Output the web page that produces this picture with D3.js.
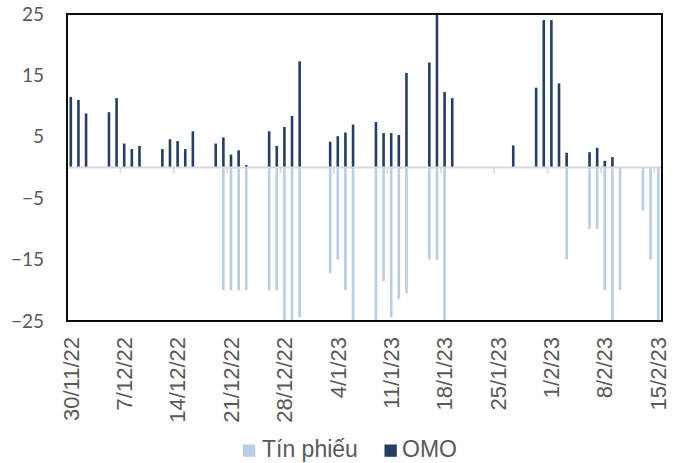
<!DOCTYPE html>
<html>
<head>
<meta charset="utf-8">
<script src="https://cdn.jsdelivr.net/npm/d3@7"></script>
<style>
  html, body { margin: 0; padding: 0; background: #fff; }
  svg { display: block; }
</style>
</head>
<body>
<svg id="chart" width="681" height="463"></svg>
<script>
// ---- Data ----
const dates = [
  "30/11/22","1/12/22","2/12/22","3/12/22","4/12/22","5/12/22","6/12/22",
  "7/12/22","8/12/22","9/12/22","10/12/22","11/12/22","12/12/22","13/12/22",
  "14/12/22","15/12/22","16/12/22","17/12/22","18/12/22","19/12/22","20/12/22",
  "21/12/22","22/12/22","23/12/22","24/12/22","25/12/22","26/12/22","27/12/22",
  "28/12/22","29/12/22","30/12/22","31/12/22","1/1/23","2/1/23","3/1/23",
  "4/1/23","5/1/23","6/1/23","7/1/23","8/1/23","9/1/23","10/1/23",
  "11/1/23","12/1/23","13/1/23","14/1/23","15/1/23","16/1/23","17/1/23",
  "18/1/23","19/1/23","20/1/23","21/1/23","22/1/23","23/1/23","24/1/23",
  "25/1/23","26/1/23","27/1/23","28/1/23","29/1/23","30/1/23","31/1/23",
  "1/2/23","2/2/23","3/2/23","4/2/23","5/2/23","6/2/23","7/2/23",
  "8/2/23","9/2/23","10/2/23","11/2/23","12/2/23","13/2/23","14/2/23",
  "15/2/23"
];
const omo = [
  11.5, 11.0, 8.8, 0, 0, 9.0, 11.3,
  3.9, 3.0, 3.5, 0, 0, 3.0, 4.6,
  4.3, 3.0, 5.9, 0, 0, 3.9, 4.9,
  2.1, 2.8, 0.4, 0, 0, 5.9, 3.5,
  6.6, 8.4, 17.3, 0, 0, 0, 4.2,
  5.1, 5.7, 7.0, 0, 0, 7.4, 5.6,
  5.6, 5.3, 15.4, 0, 0, 17.1, 26,
  12.3, 11.3, 0, 0, 0, 0, 0,
  0, 0, 3.6, 0, 0, 13.0, 24.0,
  24.0, 13.7, 2.4, 0, 0, 2.5, 3.2,
  1.1, 1.7, 0, 0, 0, 0, 0,
  0
];
const tinPhieu = [
  0, 0, 0, 0, 0, 0, 0,
  0, 0, 0, 0, 0, 0, 0,
  0, 0, 0, 0, 0, 0, -20,
  -20, -20, -20, 0, 0, -20, -20,
  -26, -26, -24.4, 0, 0, 0, -17.2,
  -15, -20, -25, 0, 0, -25, -18.5,
  -24.4, -21.4, -20.5, 0, 0, -15, -15,
  -25, 0, 0, 0, 0, 0, 0,
  0, 0, 0, 0, 0, 0, 0,
  0, 0, -15, 0, 0, -10, -10,
  -20, -25, -20, 0, 0, -7, -15,
  -25
];
const yTicks = [-25, -15, -5, 5, 15, 25];
const labelEvery = 7;
const seriesNames = ["Tín phiếu", "OMO"];
const colors = ["#B9CDE5", "#243F63"];

// ---- Layout ----
const svg = d3.select("#chart");
const L = 67, R = 662, T = 14, B = 321;

const idx = dates.map((d, i) => i);
const x = d3.scaleBand().domain(idx).range([L, R]).padding(0);
const y = d3.scaleLinear().domain([-25, 25]).range([B, T]);
const barW = 2.6;

svg.append("defs").append("clipPath").attr("id", "plotclip")
  .append("rect").attr("x", L).attr("y", T).attr("width", R - L).attr("height", B - T);

const plot = svg.append("g").attr("clip-path", "url(#plotclip)");

// Tín phiếu bars
plot.append("g").selectAll("rect")
  .data(tinPhieu.map((v, i) => ({ i, v })).filter(d => d.v !== 0))
  .join("rect")
  .attr("x", d => x(d.i) + x.bandwidth() / 2 - barW / 2)
  .attr("width", barW)
  .attr("y", d => y(Math.max(0, d.v)))
  .attr("height", d => Math.abs(y(d.v) - y(0)))
  .attr("fill", colors[0]);

// OMO bars
plot.append("g").selectAll("rect")
  .data(omo.map((v, i) => ({ i, v })).filter(d => d.v !== 0))
  .join("rect")
  .attr("x", d => x(d.i) + x.bandwidth() / 2 - barW / 2)
  .attr("width", barW)
  .attr("y", d => y(Math.max(0, d.v)))
  .attr("height", d => Math.abs(y(d.v) - y(0)))
  .attr("fill", colors[1]);

// zero line and tick marks
const tickIdx = idx.filter(i => i % labelEvery === 0);
svg.append("g").selectAll("line")
  .data(tickIdx)
  .join("line")
  .attr("x1", d => x(d)).attr("x2", d => x(d))
  .attr("y1", y(0)).attr("y2", y(0) + 6)
  .attr("stroke", "#D9D9D9").attr("stroke-width", 1.5);
svg.append("line")
  .attr("x1", L).attr("x2", R)
  .attr("y1", y(0)).attr("y2", y(0))
  .attr("stroke", "#D9D9D9").attr("stroke-width", 2);

// frame
svg.append("rect")
  .attr("x", L).attr("y", T).attr("width", R - L).attr("height", B - T)
  .attr("fill", "none").attr("stroke", "#0D0D0D").attr("stroke-width", 2);

// Y axis
const yAxis = svg.append("g")
  .attr("transform", `translate(${L},0)`)
  .call(d3.axisLeft(y).tickValues(yTicks).tickSize(0).tickPadding(23).tickFormat(d3.format("d")));
yAxis.select(".domain").remove();
yAxis.selectAll("text")
  .attr("font-family", "Lato, 'Open Sans', sans-serif")
  .attr("font-size", 19)
  .attr("fill", "#595959");

// X axis labels
const xAxis = svg.append("g")
  .attr("transform", `translate(0,${B})`)
  .call(d3.axisBottom(x).tickValues(tickIdx).tickSize(0).tickFormat(i => dates[i]));
xAxis.select(".domain").remove();
xAxis.selectAll("text")
  .attr("font-family", "'Liberation Sans', Arial, sans-serif")
  .attr("font-size", 22)
  .attr("fill", "#595959")
  .attr("text-anchor", "end")
  .attr("dy", "0.35em")
  .attr("transform", "translate(0,16) rotate(-90)")
  .attr("x", 0).attr("y", 0);

// Legend
const legend = svg.append("g");
const legendItems = [
  { name: seriesNames[0], color: colors[0], sx: 243, tx: 262 },
  { name: seriesNames[1], color: colors[1], sx: 384.5, tx: 402 }
];
legend.selectAll("rect")
  .data(legendItems)
  .join("rect")
  .attr("x", d => d.sx).attr("y", 444.5)
  .attr("width", 12.3).attr("height", 12.3)
  .attr("fill", d => d.color);
legend.selectAll("text")
  .data(legendItems)
  .join("text")
  .attr("x", d => d.tx).attr("y", 456.8)
  .attr("font-family", "'Liberation Sans', Arial, sans-serif")
  .attr("font-size", 23)
  .attr("fill", "#595959")
  .text(d => d.name);
</script>
</body>
</html>
